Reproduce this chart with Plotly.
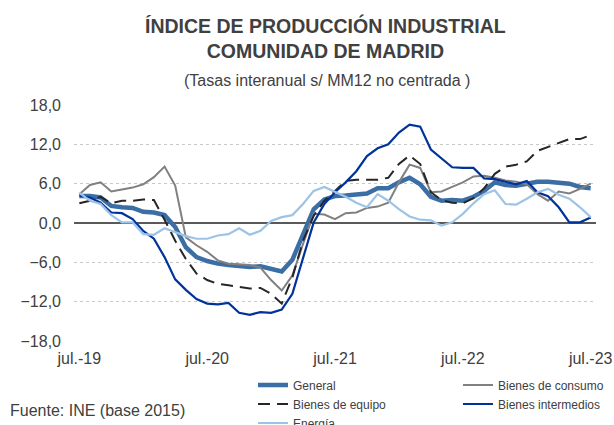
import plotly.graph_objects as go

MESES = ["jul.", "ago.", "sep.", "oct.", "nov.", "dic.", "ene.", "feb.", "mar.", "abr.", "may.", "jun."]

months = []
for y in range(19, 24):
    for k, m in enumerate(MESES):
        yy = y if k < 6 else y + 1
        months.append(f"{m}-{yy:02d}")
months = months[:49]

tick_labels = ["jul.-19", "jul.-20", "jul.-21", "jul.-22", "jul.-23"]
y_ticks = [-18, -12, -6, 0, 6, 12, 18]

general = [4.1, 4.1, 3.9, 2.6, 2.4, 2.3, 1.7, 1.6, 1.2, -0.6, -3.7, -5.2, -5.8,
           -6.2, -6.4, -6.5, -6.7, -6.6, -7.0, -7.4, -5.6, -1.7, 2.1, 3.6, 4.1,
           4.2, 4.3, 4.5, 5.3, 5.3, 6.2, 6.9, 5.9, 4.0, 3.4, 3.5, 3.4,
           4.0, 4.9, 6.2, 5.8, 5.7, 6.0, 6.3, 6.3, 6.2, 6.0, 5.5, 5.3]

consumo = [4.4, 5.8, 6.2, 4.8, 5.1, 5.4, 5.9, 7.0, 8.6, 5.7, -2.2, -3.4, -4.4,
           -5.7, -6.2, -6.3, -6.4, -6.8, -8.7, -10.3, -8.0, -3.2, 1.4, 1.3, 0.6,
           1.5, 1.6, 2.3, 2.5, 3.1, 6.2, 8.9, 8.4, 4.7, 4.8, 5.5, 6.2,
           7.1, 7.2, 6.9, 6.5, 6.3, 5.9, 4.4, 3.4, 4.8, 4.5, 5.2, 6.0]

equipo = [3.0, 3.4, 4.0, 3.0, 3.4, 3.4, 3.6, 3.5, 0.5, -2.7, -5.5, -7.7, -8.7,
          -9.3, -9.5, -9.8, -10.0, -9.9, -10.8, -12.3, -8.3, -2.7, 1.1, 3.4, 4.9,
          6.4, 6.6, 6.6, 6.6, 6.9, 9.0, 10.3, 9.0, 4.7, 3.5, 3.1, 3.0,
          3.8, 5.3, 7.5, 8.6, 8.9, 9.4, 11.0, 11.6, 12.2, 12.8, 12.8, 13.4]

intermedios = [4.2, 3.9, 3.1, 1.6, 1.5, 0.6, -1.2, -2.4, -5.2, -8.6, -10.2, -11.6, -12.3,
               -12.4, -12.2, -13.7, -14.0, -13.6, -13.7, -13.2, -10.8, -5.2, 0.1, 2.9, 4.7,
               6.2, 7.9, 10.2, 11.4, 12.0, 13.8, 15.0, 14.7, 11.2, 9.9, 8.5, 8.4,
               8.4, 6.8, 6.7, 6.3, 5.9, 6.4, 4.7, 4.1, 2.4, 0.1, 0.1, 0.85]

energia = [4.6, 3.4, 2.9, 1.2, 0.1, 0.1, -1.7, -1.8, -0.8, -1.4, -2.0, -2.4, -2.4,
           -1.9, -1.7, -0.8, -1.8, -1.2, 0.3, 0.9, 1.2, 2.9, 4.9, 5.5, 4.8,
           4.0, 3.1, 2.4, 4.4, 3.4, 2.1, 1.0, 0.5, 0.4, -0.4, 0.1, 1.4,
           3.0, 4.4, 5.0, 2.9, 2.8, 3.7, 4.7, 5.2, 4.3, 3.7, 2.4, 0.9]

FONT = "Liberation Sans, Arial, sans-serif"
TXT = "#404040"

fig = go.Figure()
fig.add_trace(go.Scatter(x=months, y=general, mode="lines", name="General",
                         line=dict(color="#3B6EA5", width=4.5), legend="legend"))
fig.add_trace(go.Scatter(x=months, y=consumo, mode="lines", name="Bienes de consumo",
                         line=dict(color="#808080", width=2), legend="legend2"))
fig.add_trace(go.Scatter(x=months, y=equipo, mode="lines", name="Bienes de equipo",
                         line=dict(color="#262626", width=2, dash="12px,7px"), legend="legend"))
fig.add_trace(go.Scatter(x=months, y=intermedios, mode="lines", name="Bienes intermedios",
                         line=dict(color="#00339A", width=2.2), legend="legend2"))
fig.add_trace(go.Scatter(x=months, y=energia, mode="lines", name="Energía",
                         line=dict(color="#9DC3E6", width=2.2), legend="legend"))

fig.update_layout(
    width=614, height=425,
    margin=dict(l=74, r=18, t=105, b=84, autoexpand=False),
    paper_bgcolor="white", plot_bgcolor="white",
    font=dict(family=FONT, color=TXT),
    separators=",.",
    showlegend=True,
    legend=dict(x=0.3429, y=-0.125, xanchor="left", yanchor="top",
                orientation="v", bgcolor="rgba(0,0,0,0)",
                font=dict(size=12, color=TXT, family=FONT), traceorder="normal"),
    legend2=dict(x=0.7356, y=-0.125, xanchor="left", yanchor="top",
                 orientation="v", bgcolor="rgba(0,0,0,0)",
                 font=dict(size=12, color=TXT, family=FONT), traceorder="normal"),
    xaxis=dict(type="category", categoryorder="array", categoryarray=months,
               range=[-0.5, len(months) - 0.5],
               tickmode="array", tickvals=tick_labels, ticktext=tick_labels,
               showgrid=False, zeroline=False, showline=False, ticks="",
               tickfont=dict(size=16, color=TXT), ticklabelstandoff=6),
    yaxis=dict(range=[-18, 18], tickmode="array", tickvals=y_ticks,
               tickformat=".1f", showgrid=True, gridcolor="#C8C8C8",
               griddash="dot", gridwidth=1, zeroline=True,
               zerolinecolor="#595959", zerolinewidth=1.5, showline=False,
               ticks="", tickfont=dict(size=16, color=TXT), ticklabelstandoff=12),
    annotations=[
        dict(text="<b>ÍNDICE DE PRODUCCIÓN INDUSTRIAL<br>COMUNIDAD DE MADRID</b>",
             xref="paper", yref="paper", x=0.482, y=1.2818,
             xanchor="center", yanchor="middle", showarrow=False,
             font=dict(size=19.5, color=TXT, family=FONT)),
        dict(text="(Tasas interanual s/ MM12 no centrada )",
             xref="paper", yref="paper", x=0.4856, y=1.1059,
             xanchor="center", yanchor="middle", showarrow=False,
             font=dict(size=16, color=TXT, family=FONT)),
        dict(text="Fuente: INE (base 2015)",
             xref="paper", yref="paper", x=-0.1264, y=-0.2966,
             xanchor="left", yanchor="middle", showarrow=False,
             font=dict(size=16, color=TXT, family=FONT)),
    ],
)

fig.write_html("out.html", config={"displayModeBar": False},
               post_script="document.body.style.margin='0px';document.body.style.overflow='hidden';")
